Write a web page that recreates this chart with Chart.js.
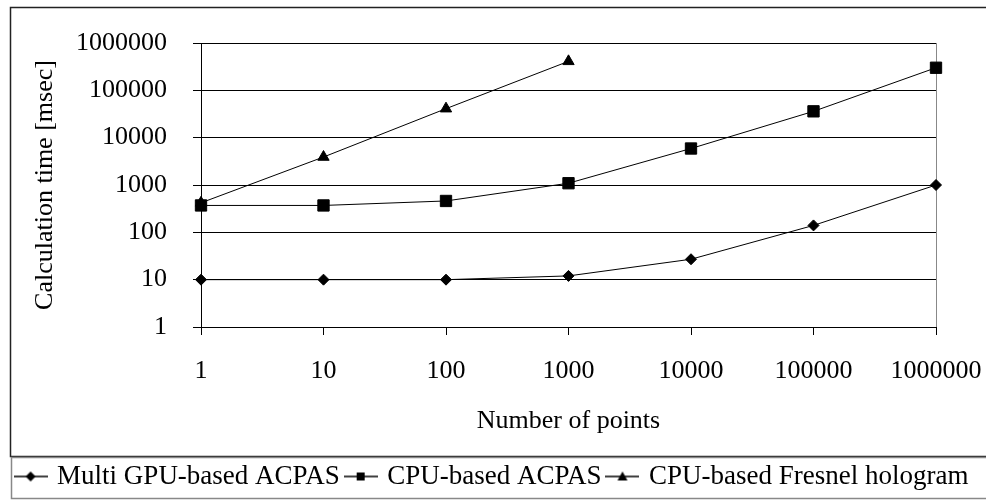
<!DOCTYPE html>
<html>
<head>
<meta charset="utf-8">
<script src="https://cdn.jsdelivr.net/npm/chart.js@4"></script>
<style>
  html, body { margin: 0; padding: 0; background: #fff; }
</style>
</head>
<body>
<canvas id="chart" width="986" height="500"></canvas>
<script>
// data
const pointLabels = ['1', '10', '100', '1000', '10000', '100000', '1000000'];
const yTicks = [1, 10, 100, 1000, 10000, 100000, 1000000];
const gpuAcpas = [10, 10, 10, 12, 27, 140, 1000];
const cpuAcpas = [370, 370, 460, 1090, 5900, 36000, 300000];
const cpuFresnel = [420, 3900, 41000, 410000, null, null, null];
const seriesNames = ['Multi GPU-based ACPAS', 'CPU-based ACPAS', 'CPU-based Fresnel hologram'];

const serif = 'Liberation Serif';
const font = { family: serif, size: 26 };

// little "line + marker" pictures for the legend
function legendIcon(style) {
    const c = document.createElement('canvas');
    c.width = 34;
    c.height = 16;
    const g = c.getContext('2d');
    g.strokeStyle = '#000';
    g.lineWidth = 1.5;
    g.beginPath();
    g.moveTo(0, 8);
    g.lineTo(34, 8);
    g.stroke();
    g.fillStyle = '#000';
    g.beginPath();
    if (style === 'rectRot') {
        g.moveTo(17, 3); g.lineTo(22, 8); g.lineTo(17, 13); g.lineTo(12, 8);
    } else if (style === 'rect') {
        g.rect(13, 4, 8, 8);
    } else {
        g.moveTo(17, 3); g.lineTo(22, 12); g.lineTo(12, 12);
    }
    g.closePath();
    g.fill();
    return c;
}
const legendIcons = [legendIcon('rectRot'), legendIcon('rect'), legendIcon('triangle')];

const framePlugin = {
    id: 'frame',
    beforeDraw(chart) {
        const ctx = chart.ctx;
        ctx.save();
        ctx.fillStyle = '#fff';
        ctx.fillRect(0, 0, chart.width, chart.height);
        ctx.strokeStyle = '#222';
        ctx.lineWidth = 1.5;
        ctx.strokeRect(10.5, 7.5, 990, 449);
        ctx.strokeStyle = '#888';
        ctx.strokeRect(11.5, 457.5, 990, 41);
        ctx.restore();
    },
    beforeDatasetsDraw(chart) {
        const a = chart.chartArea;
        const ctx = chart.ctx;
        ctx.save();
        ctx.strokeStyle = '#888';
        ctx.lineWidth = 1;
        ctx.beginPath();
        ctx.moveTo(Math.round(a.right) + 0.5, a.top);
        ctx.lineTo(Math.round(a.right) + 0.5, a.bottom);
        ctx.stroke();
        ctx.restore();
    }
};

function series(label, data, style, radius) {
    return {
        label: label,
        data: data,
        borderColor: '#000',
        backgroundColor: '#000',
        borderWidth: 1,
        pointStyle: style,
        pointRadius: radius,
        pointHoverRadius: radius,
        pointBorderWidth: 1,
        tension: 0,
        spanGaps: false,
        clip: false
    };
}

new Chart(document.getElementById('chart'), {
    type: 'line',
    data: {
        labels: pointLabels,
        datasets: [
            series(seriesNames[0], gpuAcpas, 'rectRot', 5.5),
            series(seriesNames[1], cpuAcpas, 'rect', 8),
            series(seriesNames[2], cpuFresnel, 'triangle', 6.5)
        ]
    },
    options: {
        responsive: false,
        animation: false,
        layout: { padding: { left: 0, top: 43, right: 0, bottom: 0 } },
        plugins: {
            tooltip: { enabled: false },
            legend: {
                position: 'bottom',
                labels: {
                    usePointStyle: true,
                    pointStyleWidth: 26,
                    padding: 8,
                    color: '#000',
                    font: { family: serif, size: 27 },
                    generateLabels: (chart) => chart.data.datasets.map((ds, i) => ({
                        text: ds.label,
                        pointStyle: legendIcons[i],
                        fillStyle: '#000',
                        strokeStyle: '#000',
                        lineWidth: 0,
                        fontColor: '#000',
                        hidden: false,
                        datasetIndex: i
                    }))
                }
            }
        },
        scales: {
            x: {
                type: 'category',
                offset: false,
                grid: { drawOnChartArea: false, drawTicks: true, tickLength: 8, color: '#000' },
                border: { color: '#000' },
                ticks: { color: '#000', font: font, padding: 21, maxRotation: 0, autoSkip: false },
                title: { display: true, text: 'Number of points', color: '#000', font: font, padding: { top: 0, bottom: 18 } },
                afterFit: (s) => { s.height = 128; s.paddingRight = 50; s.paddingLeft = 0; }
            },
            y: {
                type: 'logarithmic',
                min: 1,
                max: 1000000,
                afterBuildTicks: (s) => { s.ticks = yTicks.map(v => ({ value: v })); },
                grid: { color: '#000', tickLength: 8 },
                border: { color: '#000' },
                ticks: { color: '#000', font: font, padding: 26, callback: (v) => String(v) },
                title: { display: true, text: 'Calculation time [msec]', color: '#000', font: font, padding: { top: 30, bottom: 0 } },
                afterFit: (s) => { s.width = 201; }
            }
        }
    },
    plugins: [framePlugin]
});
</script>
</body>
</html>
